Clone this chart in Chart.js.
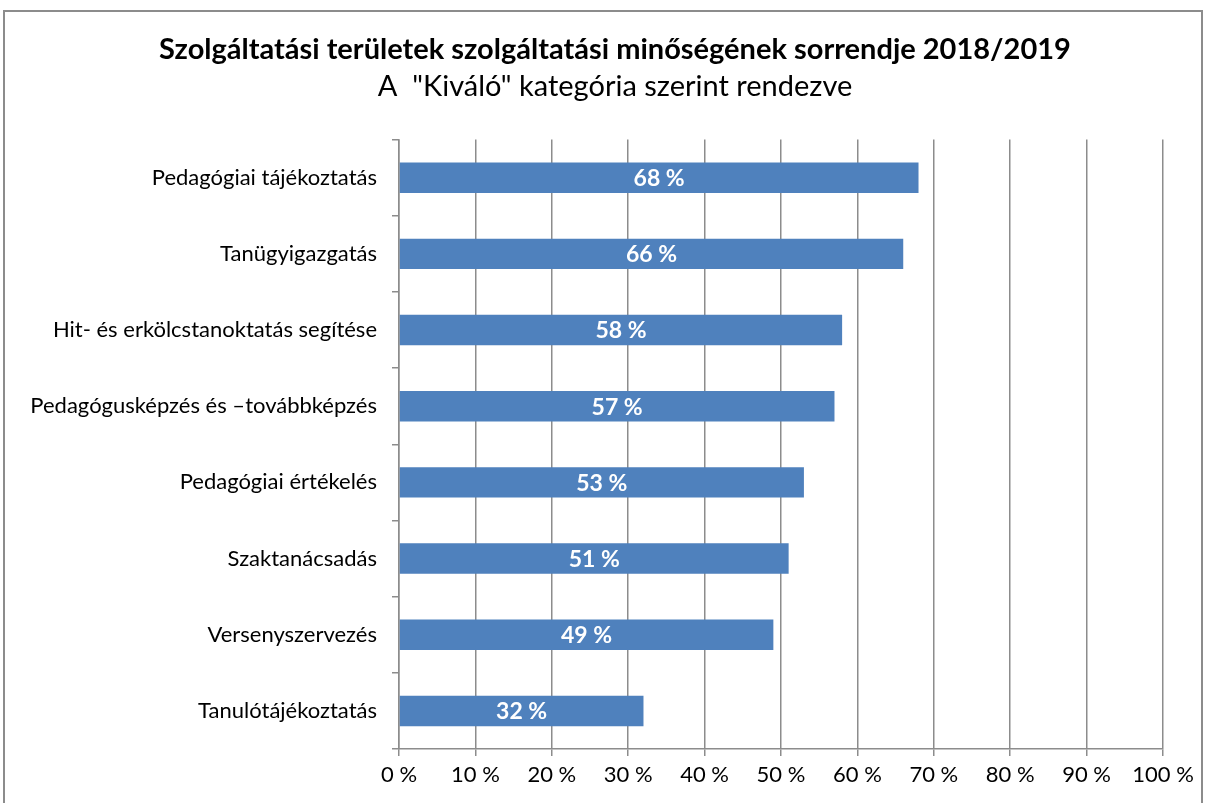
<!DOCTYPE html>
<html>
<head>
<meta charset="utf-8">
<script src="https://cdn.jsdelivr.net/npm/chart.js@4"></script>
<style>
  body { margin: 0; background: #fff; }
  #box { position: absolute; left: 3px; top: 10px; width: 1196px; height: 798px; border: 2px solid #8c8c8c; background: #fff; }
</style>
</head>
<body>
<div id="box"><canvas id="c"></canvas></div>
<script>
var categories = [
  'Pedagógiai tájékoztatás',
  'Tanügyigazgatás',
  'Hit- és erkölcstanoktatás segítése',
  'Pedagógusképzés és –továbbképzés',
  'Pedagógiai értékelés',
  'Szaktanácsadás',
  'Versenyszervezés',
  'Tanulótájékoztatás'
];
var kivalo = [68, 66, 58, 57, 53, 51, 49, 32];
var xTicks = [0, 10, 20, 30, 40, 50, 60, 70, 80, 90, 100];

var fontName = 'Lato, "Open Sans", sans-serif';
var gridGray = '#8c8c8c';

// white value labels in the middle of each bar
var barLabels = {
  id: 'barLabels',
  afterDatasetsDraw: function(chart) {
    var ctx = chart.ctx;
    var meta = chart.getDatasetMeta(0);
    ctx.save();
    ctx.fillStyle = '#fff';
    ctx.font = 'bold 23px ' + fontName;
    ctx.textAlign = 'center';
    ctx.textBaseline = 'middle';
    meta.data.forEach(function(bar, i) {
      var cx = (bar.base + bar.x) / 2;
      ctx.fillText(kivalo[i] + ' %', cx, bar.y + 1);
    });
    ctx.restore();
  }
};

// title and subtitle sit a bit right of the canvas centre in the original
var shiftTitles = {
  id: 'shiftTitles',
  afterLayout: function(chart) {
    chart.boxes.forEach(function(b) {
      if (b.options && b.options.text !== undefined) b.left += 62;
    });
  }
};

new Chart(document.getElementById('c'), {
  type: 'bar',
  data: {
    labels: categories,
    datasets: [{
      data: kivalo,
      backgroundColor: '#4f81bd',
      borderWidth: 0,
      barPercentage: 0.4,
      categoryPercentage: 1
    }]
  },
  options: {
    indexAxis: 'y',
    responsive: true,
    maintainAspectRatio: false,
    animation: false,
    layout: { padding: { left: 0, right: 38, top: 0, bottom: 0 } },
    plugins: {
      legend: { display: false },
      tooltip: { enabled: false },
      title: {
        display: true,
        text: 'Szolgáltatási területek szolgáltatási minőségének sorrendje 2018/2019',
        color: '#000',
        font: { family: fontName, size: 29, weight: 'bold' },
        padding: { top: 20, bottom: 2 }
      },
      subtitle: {
        display: true,
        text: 'A  "Kiváló" kategória szerint rendezve',
        color: '#000',
        font: { family: fontName, size: 29, weight: 'normal' },
        padding: { top: 0, bottom: 36 }
      }
    },
    scales: {
      x: {
        min: 0,
        max: 100,
        afterBuildTicks: function(scale) {
          scale.ticks = xTicks.map(function(v) { return { value: v }; });
        },
        afterFit: function(scale) { scale.height = 61; },
        ticks: {
          color: '#000',
          font: { family: fontName, size: 22 },
          padding: 6,
          callback: function(v) { return v + ' %'; }
        },
        grid: { color: gridGray, lineWidth: 1.5, tickLength: 7 },
        border: { color: gridGray, width: 1.5 }
      },
      y: {
        afterFit: function(scale) { scale.width = 394; },
        ticks: {
          color: '#000',
          font: { family: fontName, size: 22 },
          padding: 15
        },
        grid: { offset: true, drawOnChartArea: false, color: gridGray, lineWidth: 1.5, tickLength: 7 },
        border: { color: gridGray, width: 1.5 }
      }
    }
  },
  plugins: [barLabels, shiftTitles]
});
</script>
</body>
</html>
